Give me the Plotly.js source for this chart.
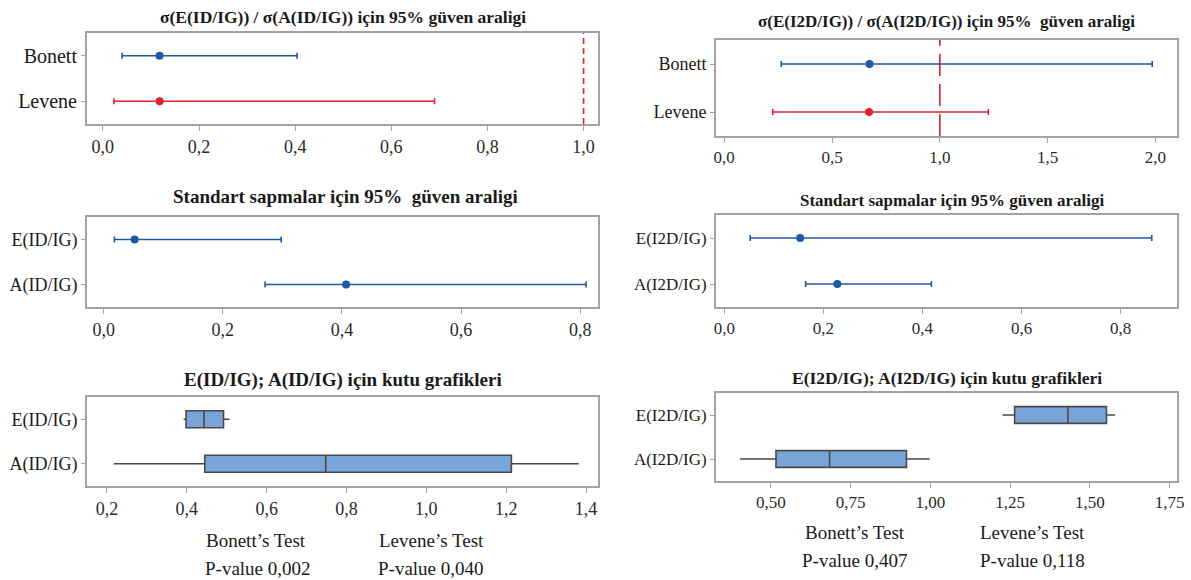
<!DOCTYPE html>
<html>
<head>
<meta charset="utf-8">
<script src="https://cdn.plot.ly/plotly-3.0.1.min.js"></script>
<style>html,body{margin:0;padding:0;background:#fff}#chart{width:1191px;height:580px}</style>
</head>
<body>
<div id="chart"></div>
<script>
// ---------- DATA ----------
// Panel 1: ratio sigma(E(ID/IG)) / sigma(A(ID/IG))
const ratio1Methods = ["Bonett", "Levene"];
const ratio1Low   = [0.040, 0.023];
const ratio1Est   = [0.118, 0.118];
const ratio1High  = [0.404, 0.690];

// Panel 2: ratio sigma(E(I2D/IG)) / sigma(A(I2D/IG))
const ratio2Methods = ["Bonett", "Levene"];
const ratio2Low   = [0.265, 0.225];
const ratio2Est   = [0.674, 0.672];
const ratio2High  = [1.985, 1.225];

const ratioReference = 1.0;

// Panel 3: standard deviation CIs (ID/IG)
const sd1Groups = ["E(ID/IG)", "A(ID/IG)"];
const sd1Low  = [0.018, 0.271];
const sd1Est  = [0.052, 0.407];
const sd1High = [0.298, 0.810];

// Panel 4: standard deviation CIs (I2D/IG)
const sd2Groups = ["E(I2D/IG)", "A(I2D/IG)"];
const sd2Low  = [0.052, 0.164];
const sd2Est  = [0.153, 0.228];
const sd2High = [0.863, 0.418];

// Panel 5: boxplots (ID/IG)
const box1Groups = ["E(ID/IG)", "A(ID/IG)"];
const box1Min = [0.392, 0.217];
const box1Q1  = [0.398, 0.445];
const box1Med = [0.443, 0.748];
const box1Q3  = [0.492, 1.213];
const box1Max = [0.507, 1.382];

// Panel 6: boxplots (I2D/IG)
const box2Groups = ["E(I2D/IG)", "A(I2D/IG)"];
const box2Min = [1.226, 0.403];
const box2Q1  = [1.264, 0.516];
const box2Med = [1.431, 0.684];
const box2Q3  = [1.552, 0.925];
const box2Max = [1.579, 0.998];

// Test results
const testNames = ["Bonett’s Test", "Levene’s Test"];
const pValues1 = ["0,002", "0,040"];
const pValues2 = ["0,407", "0,118"];

// ---------- STYLE ----------
const BLUE = "#1f58a3";
const RED = "#e0232e";
const FRAME = "#a3a3a3";
const FONT = "Liberation Serif, Times New Roman, serif";
const W = 1191, H = 580;

function ciTraces(cats, low, est, high, colors, xa, ya) {
  return cats.map((c, i) => ({
    type: "scatter", mode: "markers",
    x: [est[i]], y: [c], xaxis: xa, yaxis: ya,
    marker: {color: colors[i], size: 8},
    error_x: {type: "data", symmetric: false,
      array: [high[i] - est[i]], arrayminus: [est[i] - low[i]],
      color: colors[i], thickness: 1.6, width: 3},
    showlegend: false, hoverinfo: "x+y"
  }));
}
function boxTraces(cats, mn, q1, med, q3, mx, xa, ya) {
  return cats.map((c, i) => ({
    type: "box", orientation: "h",
    y: [c], q1: [q1[i]], median: [med[i]], q3: [q3[i]],
    lowerfence: [mn[i]], upperfence: [mx[i]],
    xaxis: xa, yaxis: ya, width: 0.38, whiskerwidth: 0,
    fillcolor: "#78a4d7", line: {color: "#4a4a4a", width: 1.6},
    showlegend: false
  }));
}

let data = [];
data = data.concat(ciTraces(ratio1Methods, ratio1Low, ratio1Est, ratio1High, [BLUE, RED], "x", "y"));
data = data.concat(ciTraces(ratio2Methods, ratio2Low, ratio2Est, ratio2High, [BLUE, RED], "x2", "y2"));
data = data.concat(ciTraces(sd1Groups, sd1Low, sd1Est, sd1High, [BLUE, BLUE], "x3", "y3"));
data = data.concat(ciTraces(sd2Groups, sd2Low, sd2Est, sd2High, [BLUE, BLUE], "x4", "y4"));
data = data.concat(boxTraces(box1Groups, box1Min, box1Q1, box1Med, box1Q3, box1Max, "x5", "y5"));
data = data.concat(boxTraces(box2Groups, box2Min, box2Q1, box2Med, box2Q3, box2Max, "x6", "y6"));

const L = [87 / W, 598 / W];
const R = [716 / W, 1177 / W];
const yd = (top, bottom) => [1 - bottom / H, 1 - top / H];

function xax(domain, range, dtick, fmt, anchor, fs) {
  return {domain, range, dtick, tick0: 0, tickformat: fmt, anchor,
    showline: true, mirror: true, linecolor: FRAME, linewidth: 2,
    showgrid: false, zeroline: false, ticks: "outside", ticklen: 5, tickcolor: FRAME,
    tickfont: {family: FONT, size: fs, color: "#2a2a2a"}, fixedrange: true};
}
function yax(domain, cats, anchor, fs) {
  return {domain, type: "category", categoryorder: "array", categoryarray: cats,
    range: [1.5, -0.5], anchor,
    showline: true, mirror: true, linecolor: FRAME, linewidth: 2,
    showgrid: false, zeroline: false, ticks: "outside", ticklen: 4, tickcolor: FRAME,
    tickfont: {family: FONT, size: fs, color: "#1a1a1a"}, fixedrange: true};
}

function title(text, xpx, ypx, size) {
  return {text: "<b>" + text + "</b>", xref: "paper", yref: "paper",
    x: xpx / W, y: 1 - ypx / H, xanchor: "center", yanchor: "middle",
    showarrow: false, font: {family: FONT, size, color: "#1a1a1a"}};
}
function note(text, xpx, ypx) {
  return {text, xref: "paper", yref: "paper", x: xpx / W, y: 1 - ypx / H,
    xanchor: "left", yanchor: "middle", showarrow: false,
    font: {family: FONT, size: 19, color: "#1a1a1a"}};
}

const layout = {
  width: W, height: H, margin: {l: 0, r: 0, t: 0, b: 0},
  paper_bgcolor: "#fff", plot_bgcolor: "#fff", separators: ",.",
  showlegend: false,
  xaxis:  xax(L, [-0.033, 1.03], 0.2, ".1f", "y", 18),
  yaxis:  yax(yd(33, 124), ratio1Methods, "x", 20),
  xaxis2: xax(R, [-0.038, 2.1], 0.5, ".1f", "y2", 17),
  yaxis2: yax(yd(40, 136), ratio2Methods, "x2", 18),
  xaxis3: xax(L, [-0.028, 0.83], 0.2, ".1f", "y3", 18),
  yaxis3: yax(yd(217, 307), sd1Groups, "x3", 18),
  xaxis4: xax(R, [-0.017, 0.914], 0.2, ".1f", "y4", 17),
  yaxis4: yax(yd(215, 307), sd2Groups, "x4", 17),
  xaxis5: xax(L, [0.15, 1.43], 0.2, ".1f", "y5", 18),
  yaxis5: yax(yd(397, 486), box1Groups, "x5", 18),
  xaxis6: xax(R, [0.328, 1.773], 0.25, ".2f", "y6", 17),
  yaxis6: yax(yd(393, 481), box2Groups, "x6", 17),
  shapes: [
    {type: "line", xref: "x", yref: "y domain", x0: ratioReference, x1: ratioReference, y0: 0, y1: 1,
     line: {color: RED, width: 1.6, dash: "6px,4px"}, layer: "below"},
    {type: "line", xref: "x2", yref: "y2 domain", x0: ratioReference, x1: ratioReference, y0: 0, y1: 1,
     line: {color: RED, width: 1.6, dash: "22px,8px"}, layer: "below"}
  ],
  annotations: [
    title("σ(E(ID/IG)) / σ(A(ID/IG)) için 95% güven araligi", 343, 17, 17.5),
    title("σ(E(I2D/IG)) / σ(A(I2D/IG)) için 95%  güven araligi", 946, 22, 17),
    title("Standart sapmalar için 95%  güven araligi", 345, 197, 19),
    title("Standart sapmalar için 95% güven araligi", 952, 200, 17),
    title("E(ID/IG); A(ID/IG) için kutu grafikleri", 343, 380, 19),
    title("E(I2D/IG); A(I2D/IG) için kutu grafikleri", 947, 378, 17.5),
    note(testNames[0], 204, 540), note(testNames[1], 377, 540),
    note("P-value " + pValues1[0], 203, 568), note("P-value " + pValues1[1], 376, 568),
    note(testNames[0], 803, 532), note(testNames[1], 978, 532),
    note("P-value " + pValues2[0], 800, 560), note("P-value " + pValues2[1], 978, 560)
  ]
};

Plotly.newPlot("chart", data, layout, {displayModeBar: false, staticPlot: true});
</script>
</body>
</html>
